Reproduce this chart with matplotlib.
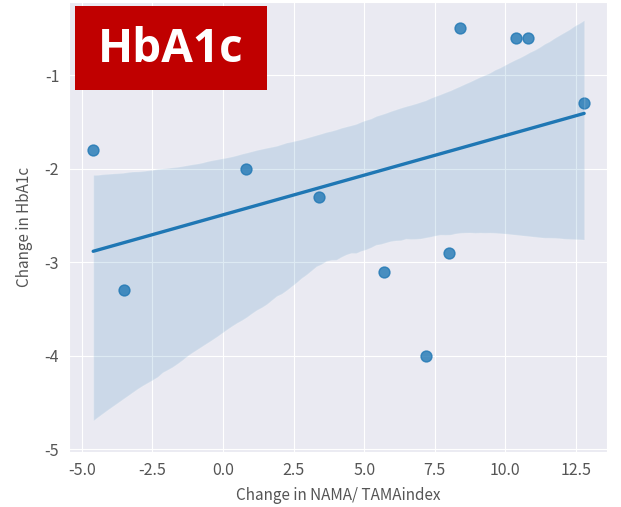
import numpy as np
import seaborn as sns
import matplotlib
matplotlib.use("Agg")
import matplotlib.pyplot as plt
from matplotlib.patches import Rectangle

# data
nama_change = [-4.6, -3.5, 0.8, 3.4, 5.7, 7.2, 8.0, 8.4, 10.4, 10.8, 12.8]
hba1c_change = [-1.8, -3.3, -2.0, -2.3, -3.1, -4.0, -2.9, -0.5, -0.6, -0.6, -1.3]
xticks = [-5.0, -2.5, 0.0, 2.5, 5.0, 7.5, 10.0, 12.5]
yticks = [-5, -4, -3, -2, -1]

sns.set_style("darkgrid")
plt.rcParams['font.family'] = ['Noto Sans CJK JP', 'DejaVu Sans']

fig = plt.figure(figsize=(6.21, 5.07), dpi=100)
ax = fig.add_axes([0.111, 0.108, 0.866, 0.888])

sns.regplot(x=nama_change, y=hba1c_change, ax=ax, seed=3, n_boot=2000,
            scatter_kws={"s": 62}, line_kws={"lw": 2.4})

ax.set_xlim(-5.46, 13.6)
ax.set_ylim(-5.03, -0.22)
ax.set_xticks(xticks)
ax.set_yticks(yticks)
ax.set_xticklabels([f"{v:.1f}" for v in xticks])
ax.set_yticklabels([str(v) for v in yticks])
ax.tick_params(labelsize=11.5, labelcolor="#555555")
ax.set_xlabel("Change in NAMA/ TAMAindex", fontsize=11, color="#555555", labelpad=6)
ax.set_ylabel("Change in HbA1c", fontsize=11, color="#555555", labelpad=8)

# red title box
fig.patches.append(Rectangle((0.1208, 0.8225), 0.309, 0.1657, transform=fig.transFigure,
                             fc="#C00000", ec="none", zorder=5))
fig.text(0.275, 0.903, "HbA1c", fontsize=33, fontweight="bold", color="white",
         family=["Open Sans", "DejaVu Sans"], ha="center", va="center", zorder=6)

fig.savefig("out.png", dpi=100)
